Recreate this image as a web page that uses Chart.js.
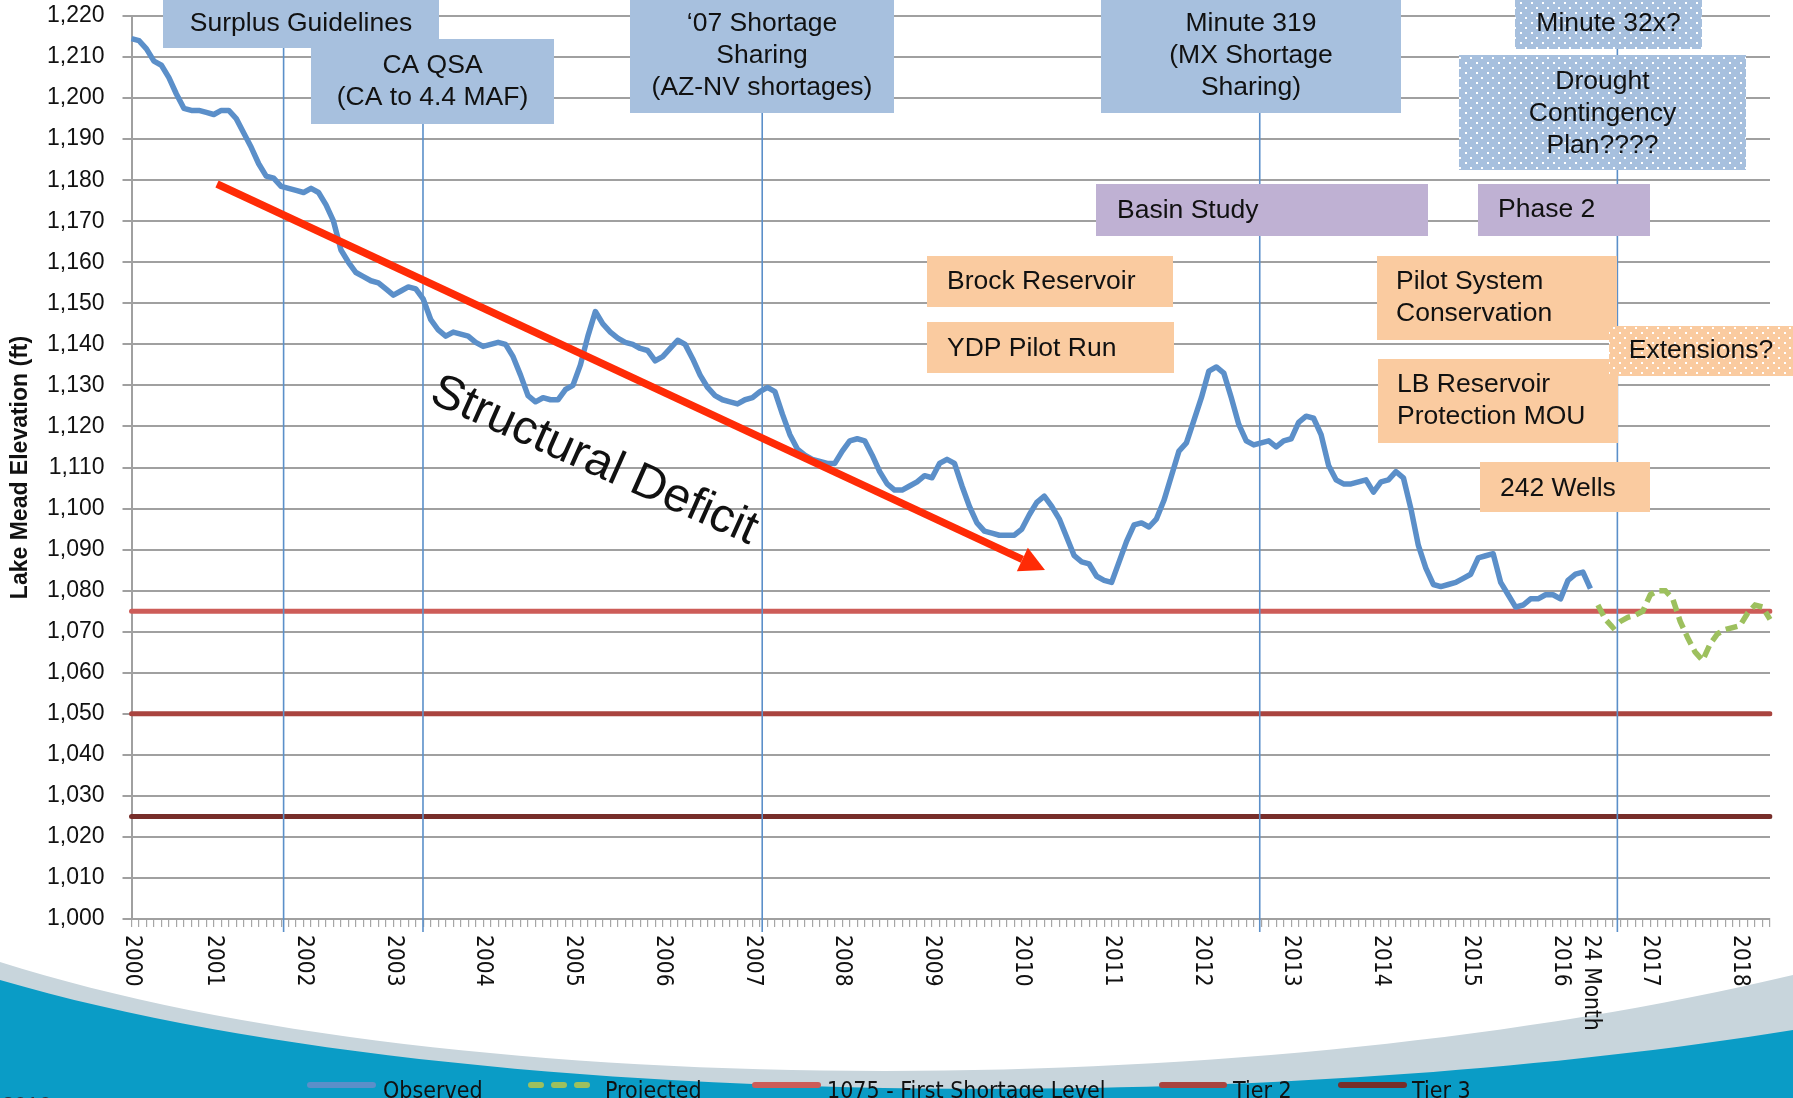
<!DOCTYPE html>
<html>
<head>
<meta charset="utf-8">
<script src="https://cdn.jsdelivr.net/npm/chart.js@4.4.0/dist/chart.umd.min.js"></script>
<style>
  html, body { margin: 0; padding: 0; background: #fff; overflow: hidden; }
  #wrap { position: relative; width: 1793px; height: 1098px; }
</style>
</head>
<body>
<div id="wrap"><canvas id="meadChart"></canvas></div>
<script>
// monthly categories, first point labelled 2000
const months = [];
for (let i = 0; i < 220; i++) {
  months.push("m" + i);
}

// Lake Mead end-of-month elevation (ft)
const observed = [
  1214.5, 1214, 1212, 1209, 1208, 1205, 1201, 1197.5, 1197, 1197, 1196.5, 1196,
  1197, 1197, 1195, 1191.5, 1188, 1184, 1181, 1180.5, 1178.5, 1178, 1177.5, 1177,
  1178, 1177, 1174, 1170, 1163, 1160, 1157.5, 1156.5, 1155.5, 1155, 1153.5, 1152,
  1153, 1154, 1153.5, 1151, 1146, 1143.5, 1142, 1143, 1142.5, 1142, 1140.5, 1139.5,
  1140, 1140.5, 1140, 1137, 1132.5, 1127.5, 1126, 1127, 1126.5, 1126.5, 1129, 1130,
  1135, 1142, 1148, 1145, 1143, 1141.5, 1140.5, 1140, 1139, 1138.5, 1136, 1137,
  1139, 1141, 1140, 1136.5, 1132.5, 1129.5, 1127.5, 1126.5, 1126, 1125.5, 1126.5, 1127,
  1128.5, 1129.5, 1128.5, 1123, 1118, 1114.5, 1113, 1112, 1111.5, 1111, 1111, 1114,
  1116.5, 1117, 1116.5, 1113, 1109, 1106, 1104.5, 1104.5, 1105.5, 1106.5, 1108, 1107.5,
  1111, 1112, 1111, 1105.5, 1100.5, 1096.5, 1094.5, 1094, 1093.5, 1093.5, 1093.5, 1095,
  1098.5, 1101.5, 1103, 1100.5, 1097.5, 1093, 1088.5, 1087, 1086.5, 1083.5, 1082.5, 1082,
  1087, 1092, 1096, 1096.5, 1095.5, 1097.5, 1102, 1108, 1114, 1116, 1121.5, 1127,
  1133.5, 1134.5, 1133, 1127, 1120.5, 1116.5, 1115.5, 1116, 1116.5, 1115, 1116.5, 1117,
  1121, 1122.5, 1122, 1118, 1110.5, 1107, 1106, 1106, 1106.5, 1107, 1104, 1106.5,
  1107, 1109, 1107.5, 1100, 1091, 1085.5, 1081.5, 1081, 1081.5, 1082, 1083, 1084,
  1088, 1088.5, 1089, 1082, 1079, 1076, 1076.5, 1078, 1078, 1079, 1079, 1078,
  1082.5, 1084, 1084.5, 1080.5
];

// 24 month study projection, starts right after the last observed month
const projectedStart = 196;
const projectedVals = [
  1076.5, 1073, 1071, 1072.5, 1073.5, 1074, 1075, 1079, 1080, 1080, 1078, 1072.5,
  1068.5, 1065, 1063, 1067, 1069.5, 1070.5, 1071, 1071.5, 1074.5, 1076.5, 1076, 1073
];

const firstShortageLevel = 1075;
const tier2Level = 1050;
const tier3Level = 1025;

// x labels: which category index gets which text
const yearTickIdx = [0, 11, 23, 35, 47, 59, 71, 83, 95, 107, 119, 131, 143, 155, 167, 179, 191, 203, 215];
const yearTickText = ["2000", "2001", "2002", "2003", "2004", "2005", "2006", "2007", "2008", "2009",
  "2010", "2011", "2012", "2013", "2014", "2015", "2016", "2017", "2018"];
const studyTickIdx = 195;
const studyTickText = "24 Month";

const projected = months.map((m, i) =>
  i < projectedStart ? null : projectedVals[i - projectedStart]
);
const firstShortage = months.map(() => firstShortageLevel);
const tier2 = months.map(() => tier2Level);
const tier3 = months.map(() => tier3Level);

// font check: use the narrow face if it exists
function hasFont(name) {
  const c = document.createElement("canvas").getContext("2d");
  c.font = "40px monospace";
  const a = c.measureText("Observed 2000").width;
  c.font = "40px '" + name + "', monospace";
  const b = c.measureText("Observed 2000").width;
  return a !== b;
}
const narrowOk = hasFont("Liberation Sans Narrow");
const narrowFamily = narrowOk ? "'Liberation Sans Narrow'" : "'DejaVu Sans Condensed', 'DejaVu Sans'";
const xLabelSize = narrowOk ? 28 : 22.5;
const legendSize = narrowOk ? 28 : 23;
const sansFamily = "'Liberation Sans', Arial, sans-serif";

const BLUE = "#5B8FC9";
const GREEN = "#9DC05E";
const RED1 = "#CD5C58";
const RED2 = "#A9443F";
const RED3 = "#772E2A";

// vertical event lines (category index, top of line in px)
const eventIdx = [20.33, 38.96, 84.3, 150.8, 198.6];
const eventTop = [48, 123, 113, 113, 49];

function dots(ctx, base) {
  const c = document.createElement("canvas");
  c.width = 11;
  c.height = 10;
  const p = c.getContext("2d");
  p.fillStyle = base;
  p.fillRect(0, 0, 11, 10);
  p.fillStyle = "#ffffff";
  p.fillRect(2, 2, 2, 2);
  p.fillRect(7, 7, 2, 2);
  return ctx.createPattern(c, "repeat");
}

// callout boxes [x, y, w, h]
const boxes = [
  { r: [163, 0, 276, 48], fill: "blue", text: ["Surplus Guidelines"], ty: 24 },
  { r: [311, 39, 243, 85], fill: "blue", text: ["CA QSA", "(CA to 4.4 MAF)"], ty: 66 },
  { r: [630, 0, 264, 113], fill: "blue", text: ["\u201807 Shortage", "Sharing", "(AZ-NV shortages)"], ty: 24 },
  { r: [1101, 0, 300, 113], fill: "blue", text: ["Minute 319", "(MX Shortage", "Sharing)"], ty: 24 },
  { r: [1515, 0, 187, 49], fill: "blueDots", text: ["Minute 32x?"], ty: 24 },
  { r: [1459, 55, 287, 115], fill: "blueDots", text: ["Drought", "Contingency", "Plan????"], ty: 82 },
  { r: [1096, 184, 332, 52], fill: "purple", text: ["Basin Study"], ty: 211, tx: 1117 },
  { r: [1478, 184, 172, 52], fill: "purple", text: ["Phase 2"], ty: 210, tx: 1498 },
  { r: [927, 256, 246, 51], fill: "orange", text: ["Brock Reservoir"], ty: 282, tx: 947 },
  { r: [927, 322, 247, 51], fill: "orange", text: ["YDP Pilot Run"], ty: 349, tx: 947 },
  { r: [1377, 256, 240, 84], fill: "orange", text: ["Pilot System", "Conservation"], ty: 282, tx: 1396 },
  { r: [1378, 359, 240, 84], fill: "orange", text: ["LB Reservoir", "Protection MOU"], ty: 385, tx: 1397 },
  { r: [1609, 326, 184, 50], fill: "orangeDots", text: ["Extensions?"], ty: 351 },
  { r: [1480, 462, 170, 50], fill: "orange", text: ["242 Wells"], ty: 489, tx: 1500 },
];

// swoosh in the background
const backdrop = {
  id: "backdrop",
  beforeDraw(chart) {
    const { ctx, width, height } = chart;
    ctx.save();
    ctx.fillStyle = "#ffffff";
    ctx.fillRect(0, 0, width, height);
    ctx.fillStyle = "#C8D5DC";
    ctx.beginPath();
    ctx.moveTo(0, 962);
    ctx.bezierCurveTo(450, 1105, 1250, 1105, width, 975);
    ctx.lineTo(width, height + 5);
    ctx.lineTo(0, height + 5);
    ctx.closePath();
    ctx.fill();
    ctx.fillStyle = "#0A9CC6";
    ctx.beginPath();
    ctx.moveTo(0, 980);
    ctx.bezierCurveTo(450, 1112, 1250, 1118, width, 1030);
    ctx.lineTo(width, height + 5);
    ctx.lineTo(0, height + 5);
    ctx.closePath();
    ctx.fill();
    ctx.restore();
  },
};

const callouts = {
  id: "callouts",
  afterDatasetsDraw(chart) {
    const {
      ctx,
      scales: { x },
    } = chart;
    ctx.save();

    // event lines
    ctx.strokeStyle = BLUE;
    ctx.lineWidth = 1.6;
    eventIdx.forEach((v, i) => {
      const px = x.getPixelForValue(v);
      ctx.beginPath();
      ctx.moveTo(px, eventTop[i]);
      ctx.lineTo(px, 932);
      ctx.stroke();
    });

    // structural deficit arrow
    const x0 = 217, y0 = 184, x1 = 1045, y1 = 570;
    const ang = Math.atan2(y1 - y0, x1 - x0);
    const headLen = 25, headW = 13;
    const bx = x1 - headLen * Math.cos(ang);
    const by = y1 - headLen * Math.sin(ang);
    ctx.strokeStyle = "#FF2B06";
    ctx.fillStyle = "#FF2B06";
    ctx.lineWidth = 7.5;
    ctx.lineCap = "butt";
    ctx.beginPath();
    ctx.moveTo(x0, y0);
    ctx.lineTo(bx, by);
    ctx.stroke();
    ctx.beginPath();
    ctx.moveTo(x1, y1);
    ctx.lineTo(bx - headW * Math.sin(ang), by + headW * Math.cos(ang));
    ctx.lineTo(bx + headW * Math.sin(ang), by - headW * Math.cos(ang));
    ctx.closePath();
    ctx.fill();

    ctx.save();
    ctx.translate(594, 461);
    ctx.rotate((24 * Math.PI) / 180);
    ctx.font = "48px " + sansFamily;
    ctx.fillStyle = "#111";
    ctx.textAlign = "center";
    ctx.textBaseline = "middle";
    ctx.fillText("Structural Deficit", 0, 0);
    ctx.restore();

    // boxes
    const fills = {
      blue: "#A7C0DE",
      purple: "#BFB1D3",
      orange: "#FACBA0",
      blueDots: dots(ctx, "#A7C0DE"),
      orangeDots: dots(ctx, "#FACBA0"),
    };
    ctx.font = "26.5px " + sansFamily;
    ctx.textBaseline = "middle";
    boxes.forEach((b) => {
      const [bx0, by0, bw, bh] = b.r;
      ctx.fillStyle = fills[b.fill];
      ctx.fillRect(bx0, by0, bw, bh);
      ctx.fillStyle = "#111";
      b.text.forEach((t, k) => {
        if (b.tx) {
          ctx.textAlign = "left";
          ctx.fillText(t, b.tx, b.ty + k * 32);
        } else {
          ctx.textAlign = "center";
          ctx.fillText(t, bx0 + bw / 2, b.ty + k * 32);
        }
      });
    });
    ctx.restore();
  },
};

// rotated year labels (read top to bottom) and the legend row
const xLabels = {
  id: "xLabels",
  afterDraw(chart) {
    const {
      ctx,
      scales: { x },
    } = chart;
    ctx.save();
    ctx.font = xLabelSize + "px " + narrowFamily;
    ctx.fillStyle = "#111";
    ctx.textAlign = "left";
    ctx.textBaseline = "middle";
    const put = (idx, text) => {
      ctx.save();
      ctx.translate(x.getPixelForValue(idx), 935);
      ctx.rotate(Math.PI / 2);
      ctx.fillText(text, 0, 0);
      ctx.restore();
    };
    yearTickIdx.forEach((idx, k) => put(idx, yearTickText[k]));
    put(studyTickIdx, studyTickText);

    // legend
    const items = [
      { label: "Observed", color: BLUE, s: 307, e: 376, t: 383 },
      { label: "Projected", color: GREEN, s: 528, e: 594, t: 605, dash: [10, 13] },
      { label: "1075 - First Shortage Level", color: RED1, s: 752, e: 821, t: 827 },
      { label: "Tier 2", color: RED2, s: 1159, e: 1227, t: 1233 },
      { label: "Tier 3", color: RED3, s: 1338, e: 1407, t: 1412 },
    ];
    ctx.font = legendSize + "px " + narrowFamily;
    ctx.textBaseline = "alphabetic";
    items.forEach((it) => {
      ctx.strokeStyle = it.color;
      ctx.lineWidth = 6;
      ctx.lineCap = "round";
      ctx.setLineDash(it.dash || []);
      ctx.beginPath();
      ctx.moveTo(it.s + 3, 1085);
      ctx.lineTo(it.e - 3, 1085);
      ctx.stroke();
      ctx.setLineDash([]);
      ctx.fillStyle = "#111";
      ctx.fillText(it.label, it.t, 1098);
    });

    ctx.font = "22px " + sansFamily;
    ctx.fillStyle = "#2a3340";
    ctx.fillText("2016", 2, 1112);
    ctx.restore();
  },
};

const config = {
  type: "line",
  data: {
    labels: months,
    datasets: [
      {
        label: "Observed",
        data: observed,
        borderColor: BLUE,
        borderWidth: 5.5,
        pointRadius: 0,
        tension: 0,
        borderJoinStyle: "round",
      },
      {
        label: "Projected",
        data: projected,
        borderColor: GREEN,
        borderWidth: 5.5,
        borderDash: [12, 6],
        pointRadius: 0,
        tension: 0,
      },
      {
        label: "1075 - First Shortage Level",
        data: firstShortage,
        borderColor: RED1,
        borderWidth: 5,
        borderCapStyle: "round",
        pointRadius: 0,
      },
      {
        label: "Tier 2",
        data: tier2,
        borderColor: RED2,
        borderWidth: 5,
        borderCapStyle: "round",
        pointRadius: 0,
      },
      {
        label: "Tier 3",
        data: tier3,
        borderColor: RED3,
        borderWidth: 5,
        borderCapStyle: "round",
        pointRadius: 0,
      },
    ],
  },
  options: {
    responsive: true,
    maintainAspectRatio: false,
    animation: false,
    layout: {
      padding: { top: 16, right: 23, left: 0, bottom: 0 },
    },
    plugins: {
      legend: { display: false },
      tooltip: { enabled: false },
    },
    scales: {
      x: {
        offset: false,
        grid: {
          display: true,
          drawOnChartArea: false,
          drawTicks: true,
          tickLength: 8,
          color: "#A6A6A6",
          lineWidth: 1.2,
        },
        border: { display: true, color: "#A0A0A0", width: 2 },
        ticks: {
          autoSkip: false,
          maxRotation: 0,
          minRotation: 0,
          padding: 0,
          callback: () => "",
        },
        afterFit(scale) {
          scale.height = 179;
        },
      },
      y: {
        min: 1000,
        max: 1220,
        ticks: {
          stepSize: 10,
          color: "#111",
          padding: 18,
          font: { family: sansFamily, size: 23 },
        },
        grid: {
          color: "#A0A0A0",
          lineWidth: 2,
          tickLength: 9,
        },
        border: { display: true, color: "#A0A0A0", width: 2 },
        title: {
          display: true,
          text: "Lake Mead Elevation (ft)",
          color: "#111",
          font: { family: sansFamily, size: 23, weight: "bold" },
          padding: { top: 7, bottom: 0 },
        },
        afterFit(scale) {
          scale.width = 131.5;
          // let the top tick label sit right at the top edge
          scale.paddingTop = 0;
          scale.paddingBottom = 0;
        },
      },
    },
  },
  plugins: [backdrop, callouts, xLabels],
};

const meadChart = new Chart(document.getElementById("meadChart"), config);
</script>
</body>
</html>
